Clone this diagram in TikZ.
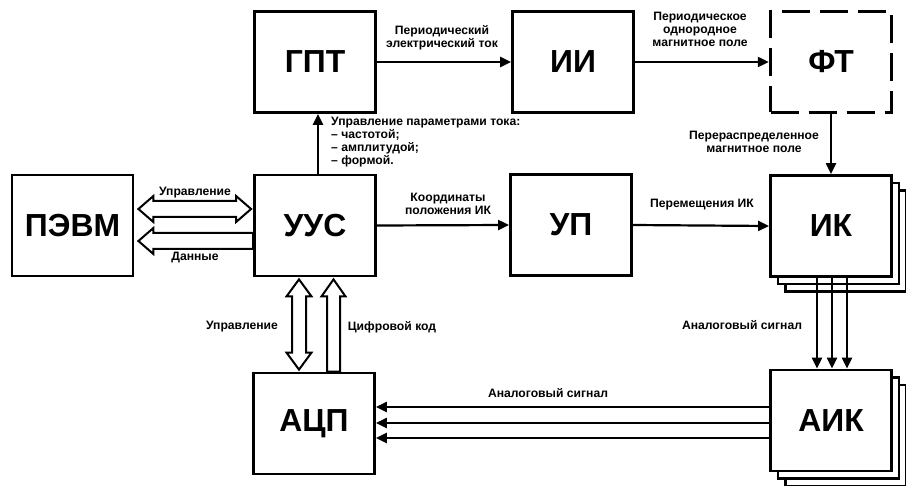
\documentclass[tikz,border=0pt]{standalone}
\usepackage{fontspec}
\setmainfont{Liberation Sans}
\usetikzlibrary{arrows.meta,calc}
\begin{document}
\begin{tikzpicture}[x=1bp,y=-1bp,
 box/.style={draw,line width=2.8bp,fill=white,minimum width=121bp,minimum height=101bp,inner sep=0,font=\bfseries\fontsize{32}{32}\selectfont},
 lbl/.style={font=\bfseries\fontsize{12.2}{13}\selectfont,align=center,inner sep=0},
 arr/.style={line width=2.2bp,-{Triangle[length=11bp,width=10bp]}},
 hollow/.style={draw,line width=2bp,fill=white,line join=miter}]
\useasboundingbox[fill=white] (0,0) rectangle (906,486);

% blocks
\node[box] (pevm) at (72.5,225.5) {ПЭВМ};
\node[box] (uus) at (315,225.5) {УУС};
\node[box] (gpt) at (315,62) {ГПТ};
\node[box] (ii) at (573,62) {ИИ};
\node[box,dash pattern=on 28bp off 10bp,line width=3.4bp] (ft) at (831,62) {ФТ};
\node[box] (up) at (571,225) {УП};
\node[box] (ik3) at (846,241) {};
\node[box] (ik2) at (838.5,233.5) {};
\node[box] (ik) at (831,226) {ИК};
\node[box] (aik3) at (846,435.5) {};
\node[box] (aik2) at (838.5,428) {};
\node[box] (aik) at (831,420.5) {АИК};
\node[box] (adc) at (314,423.5) {АЦП};

% plain arrows
\draw[arr] (gpt.east) -- (ii.west);
\draw[arr] (ii.east) -- (ft.west);
\draw[arr] (ft.south) -- (ik.north);
\draw[arr] ([xshift=3bp]uus.north) -- ([xshift=3bp]gpt.south);
\draw[arr] (uus.east) -- (up.west);
\draw[arr] (up.east) -- (ik.west);
\foreach \dx in {-14,1,16}
  \draw[arr] ([xshift=\dx bp]ik.south) -- ([xshift=\dx bp]aik.north);
\foreach \dy in {13.5,-2.5,-17.5}
  \draw[arr] ([yshift=\dy bp]aik.west) -- ([yshift=\dy bp]aik.west -| adc.east);

% hollow arrows PEVM <-> UUS
\coordinate (hA) at ($(pevm.east)+(4,-16.5)$);
\coordinate (hB) at ($(uus.west)+(-2,-16.5)$);
\draw[hollow] (hA) -- ++(15,-13) -- ++(0,5) -- ($(hB)+(-15,-8)$) -- ++(0,-5) -- (hB)
  -- ++(-15,13) -- ++(0,-5) -- ($(hA)+(15,8)$) -- ++(0,5) -- cycle;
\coordinate (lA) at ($(pevm.east)+(4,15.5)$);
\coordinate (lB) at ($(uus.west)+(0,15.5)$);
\draw[hollow] (lA) -- ++(15,-13) -- ++(0,5) -- ($(lB)+(0,-8)$) -- ($(lB)+(0,8)$)
  -- ($(lA)+(15,8)$) -- ++(0,5) -- cycle;

% hollow arrows UUS <-> ADC
\coordinate (vA) at ($(uus.south)+(-16,2)$);
\coordinate (vB) at ($(adc.north)+(-15,-2)$);
\draw[hollow] (vA) -- ++(12.5,17) -- ++(-5.5,0) -- ($(vB)+(7,-17)$) -- ++(5.5,0) -- (vB)
  -- ++(-12.5,-17) -- ++(5.5,0) -- ($(vA)+(-7,17)$) -- ++(-5.5,0) -- cycle;
\coordinate (wA) at ($(uus.south)+(18.5,2)$);
\coordinate (wB) at ($(adc.north)+(19.5,0)$);
\draw[hollow] (wA) -- ++(12,17) -- ++(-5.5,0) -- ($(wB)+(6.5,0)$) -- ($(wB)+(-6.5,0)$)
  -- ($(wA)+(-6.5,17)$) -- ++(-5.5,0) -- cycle;

% labels
\node[lbl] (l1) at (442,37.5) {Периодический\\электрический ток};
\node[lbl] (l2) at (700,29) {Периодическое\\однородное\\магнитное поле};
\node[lbl] (l3) at (754,141.5) {Перераспределенное\\магнитное поле};
\node[lbl,align=left,anchor=west] (l4) at (331,142.5) {Управление параметрами тока:\\– частотой;\\– амплитудой;\\– формой.};
\node[lbl] (l5) at (448,203.5) {Координаты\\положения ИК};
\node[lbl] (l6) at (702,205) {Перемещения ИК};
\node[lbl] (l7) at (742,325) {Аналоговый сигнал};
\node[lbl] (l8) at (548,393) {Аналоговый сигнал};
\node[lbl] (l9) at (195,193) {Управление};
\node[lbl] (l10) at (195,258) {Данные};
\node[lbl] (l11) at (242,327) {Управление};
\node[lbl] (l12) at (392,327) {Цифровой код};
\end{tikzpicture}
\end{document}
